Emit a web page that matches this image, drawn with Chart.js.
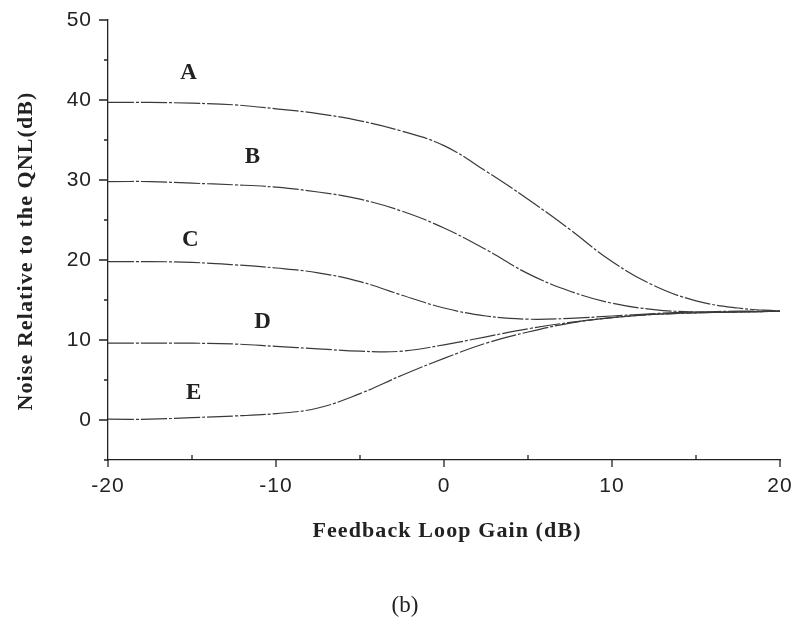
<!DOCTYPE html>
<html>
<head>
<meta charset="utf-8">
<script src="https://cdn.jsdelivr.net/npm/chart.js@4.4.1/dist/chart.umd.min.js"></script>
<style>
  html, body { margin: 0; padding: 0; background: #fff; }
  #wrap { width: 795px; height: 625px; }
</style>
</head>
<body>
<div id="wrap"><canvas id="noiseChart" width="795" height="625"></canvas></div>
<script>
// feedback loop gain (dB) sample points
const gainDb = [-20, -17.5, -15, -12.5, -10, -7.5, -5, -2.5, 0, 2.5, 5, 7.5, 10, 12.5, 15, 17.5, 20];

// noise relative to the QNL (dB), one list per curve
const curveA = [39.7, 39.7, 39.6, 39.4, 38.9, 38.3, 37.4, 36.1, 34.3, 31.1, 27.6, 23.8, 19.8, 16.8, 14.9, 14.0, 13.6];
const curveB = [29.8, 29.8, 29.6, 29.4, 29.1, 28.5, 27.6, 26.1, 24.0, 21.3, 18.3, 16.1, 14.6, 13.8, 13.5, 13.5, 13.6];
const curveC = [19.8, 19.8, 19.7, 19.4, 19.0, 18.4, 17.3, 15.6, 14.0, 13.0, 12.6, 12.7, 13.0, 13.3, 13.5, 13.6, 13.6];
const curveD = [9.6, 9.6, 9.6, 9.5, 9.2, 8.9, 8.6, 8.6, 9.4, 10.4, 11.4, 12.2, 12.8, 13.2, 13.4, 13.5, 13.6];
const curveE = [0.1, 0.1, 0.3, 0.5, 0.8, 1.5, 3.3, 5.6, 7.7, 9.6, 11.0, 12.1, 12.8, 13.2, 13.4, 13.5, 13.6];

// curve names and where their letters sit (data units)
const curveNames = ['A', 'B', 'C', 'D', 'E'];
const nameX = [-15.2, -11.4, -15.1, -10.8, -14.9];
const nameY = [43.4, 32.9, 22.5, 12.3, 3.4];

// axis ticks
const xTickValues = [-20, -10, 0, 10, 20];
const xMinorValues = [-15, -5, 5, 15];
const yTickValues = [0, 10, 20, 30, 40, 50];
const yMinorValues = [-5, 5, 15, 25, 35, 45];

const xTitle = 'Feedback Loop Gain (dB)';
const yTitle = 'Noise Relative to the QNL(dB)';
const panelTag = '(b)';

const INK = '#222';
const LINE = '#3a3a3a';

function toPoints(values) {
  return gainDb.map((g, i) => ({ x: g, y: values[i] }));
}

function curveDataset(name, values) {
  return {
    label: name,
    data: toPoints(values),
    borderColor: LINE,
    borderWidth: 1.2,
    borderDash: [26, 2, 3, 2],
    pointRadius: 0,
    fill: false,
    tension: 0.4
  };
}

// tick marks, axis titles, curve letters and the panel tag
const axisDecor = {
  id: 'axisDecor',
  beforeDraw(chart) {
    chart.ctx.letterSpacing = '1px';
  },
  afterDraw(chart) {
    const { ctx, chartArea, scales: { x, y } } = chart;
    ctx.save();
    ctx.strokeStyle = INK;
    ctx.lineWidth = 1.3;
    ctx.beginPath();
    yTickValues.forEach(v => {
      const py = y.getPixelForValue(v);
      ctx.moveTo(chartArea.left - 9, py);
      ctx.lineTo(chartArea.left, py);
    });
    yMinorValues.forEach(v => {
      const py = y.getPixelForValue(v);
      ctx.moveTo(chartArea.left - 4, py);
      ctx.lineTo(chartArea.left, py);
    });
    xTickValues.forEach(v => {
      const px = x.getPixelForValue(v);
      ctx.moveTo(px, chartArea.bottom);
      ctx.lineTo(px, chartArea.bottom + 7);
    });
    xMinorValues.forEach(v => {
      const px = x.getPixelForValue(v);
      ctx.moveTo(px, chartArea.bottom);
      ctx.lineTo(px, chartArea.bottom - 5);
    });
    ctx.stroke();

    ctx.fillStyle = INK;
    ctx.letterSpacing = '1.1px';
    ctx.font = 'bold 22px "Liberation Serif", "Times New Roman", serif';
    ctx.textAlign = 'center';
    ctx.textBaseline = 'alphabetic';
    ctx.fillText(xTitle, (chartArea.left + chartArea.right) / 2 + 3, 537);

    ctx.save();
    ctx.translate(32, 251);
    ctx.rotate(-Math.PI / 2);
    ctx.fillText(yTitle, 0, 0);
    ctx.restore();

    ctx.letterSpacing = '0px';
    ctx.font = 'bold 23px "Liberation Serif", "Times New Roman", serif';
    ctx.textBaseline = 'middle';
    curveNames.forEach((name, i) => {
      ctx.fillText(name, x.getPixelForValue(nameX[i]), y.getPixelForValue(nameY[i]));
    });

    ctx.font = '23px "Liberation Serif", "Times New Roman", serif';
    ctx.fillText(panelTag, 405, 606);
    ctx.restore();
  }
};

const ctx = document.getElementById('noiseChart').getContext('2d');
const noiseChart = new Chart(ctx, {
  type: 'line',
  data: {
    datasets: [
      curveDataset('A', curveA),
      curveDataset('B', curveB),
      curveDataset('C', curveC),
      curveDataset('D', curveD),
      curveDataset('E', curveE)
    ]
  },
  options: {
    responsive: false,
    animation: false,
    layout: { padding: { top: 20, right: 15, left: 0, bottom: 0 } },
    plugins: {
      legend: { display: false },
      tooltip: { enabled: false }
    },
    scales: {
      x: {
        type: 'linear',
        min: -20,
        max: 20,
        afterBuildTicks: scale => { scale.ticks = xTickValues.map(v => ({ value: v })); },
        afterFit: scale => {
          scale.height = 165;
          scale.paddingLeft = 0;
          scale.paddingRight = 0;
        },
        grid: { display: false, drawTicks: false },
        border: { display: true, color: INK, width: 1.3 },
        ticks: {
          color: INK,
          padding: 14,
          maxRotation: 0,
          font: { family: '"Liberation Sans", Arial, sans-serif', size: 21 }
        }
      },
      y: {
        type: 'linear',
        min: -5,
        max: 50,
        afterBuildTicks: scale => { scale.ticks = yTickValues.map(v => ({ value: v })); },
        afterFit: scale => {
          scale.width = 108;
          scale.paddingTop = 0;
          scale.paddingBottom = 0;
        },
        grid: { display: false, drawTicks: false },
        border: { display: true, color: INK, width: 1.3 },
        ticks: {
          color: INK,
          padding: 16,
          font: { family: '"Liberation Sans", Arial, sans-serif', size: 21 }
        }
      }
    }
  },
  plugins: [axisDecor]
});
</script>
</body>
</html>
